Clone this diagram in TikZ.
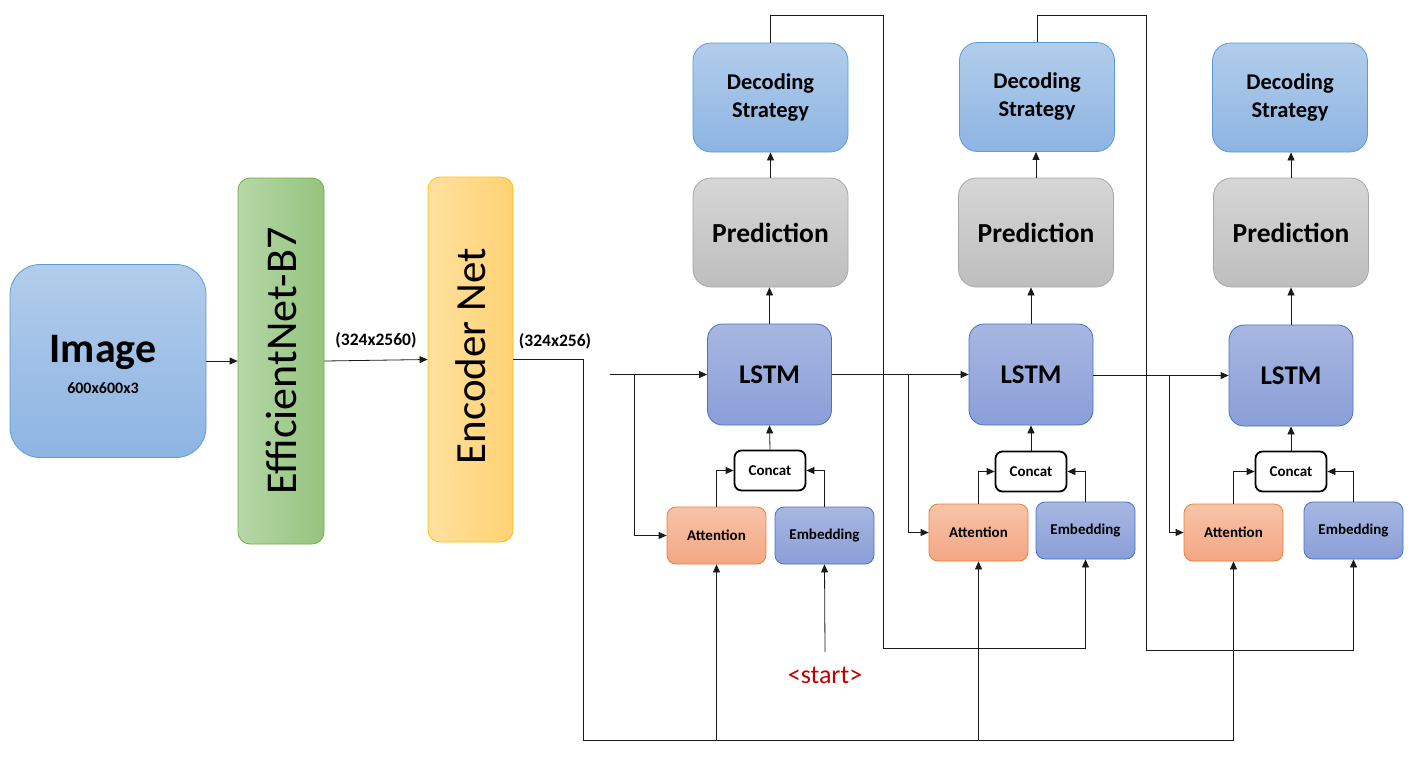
\documentclass[tikz,border=0pt]{standalone}
\usepackage{fontspec}
\setmainfont{Carlito}
\usetikzlibrary{arrows.meta}
\definecolor{bluebd}{HTML}{5B9BD5}
\definecolor{bluetop}{HTML}{B2CDEB}
\definecolor{bluebot}{HTML}{8DB4E2}
\definecolor{lstmbd}{HTML}{4472C4}
\definecolor{lstmtop}{HTML}{A8B7E1}
\definecolor{lstmbot}{HTML}{8A9FD8}
\definecolor{graybd}{HTML}{A6A6A6}
\definecolor{graytop}{HTML}{D6D6D6}
\definecolor{graybot}{HTML}{BEBEBE}
\definecolor{attbd}{HTML}{ED7D31}
\definecolor{atttop}{HTML}{F7C3A9}
\definecolor{attbot}{HTML}{F4A783}
\definecolor{effbd}{HTML}{70AD47}
\definecolor{effl}{HTML}{B6D7A8}
\definecolor{effr}{HTML}{94C47D}
\definecolor{encbd}{HTML}{FFC000}
\definecolor{encl}{HTML}{FFE0A0}
\definecolor{encr}{HTML}{FFD272}
\definecolor{startred}{HTML}{C00000}
\definecolor{linec}{HTML}{1A1A1A}
\tikzset{
  blk/.style={draw, inner sep=0pt, line width=0.8pt, align=center, font=\bfseries},
  decbox/.style={blk, draw=bluebd, top color=bluetop, bottom color=bluebot, rounded corners=18pt,
    minimum width=155pt, minimum height=109pt, font=\bfseries\fontsize{22.5}{28}\selectfont},
  predbox/.style={blk, draw=graybd, top color=graytop, bottom color=graybot, rounded corners=18pt,
    minimum width=155pt, minimum height=109pt, font=\bfseries\fontsize{27.5}{30}\selectfont},
  lstmbox/.style={blk, draw=lstmbd, top color=lstmtop, bottom color=lstmbot, rounded corners=15pt,
    minimum width=124pt, minimum height=101pt, font=\bfseries\fontsize{27}{30}\selectfont},
  ccbox/.style={blk, draw=black, line width=1.8pt, fill=white, rounded corners=7pt,
    minimum width=71pt, minimum height=40pt, font=\bfseries\fontsize{15}{17}\selectfont},
  attbox/.style={blk, draw=attbd, top color=atttop, bottom color=attbot, rounded corners=9pt,
    minimum width=99pt, minimum height=57pt, font=\bfseries\fontsize{15}{17}\selectfont},
  embbox/.style={blk, draw=lstmbd, top color=lstmtop, bottom color=lstmbot, rounded corners=9pt,
    minimum width=99pt, minimum height=57pt, font=\bfseries\fontsize{15}{17}\selectfont},
  arr/.style={draw=linec, line width=0.8pt, -{Triangle[length=8pt,width=7pt]}},
  dimlbl/.style={inner sep=0pt, font=\bfseries\fontsize{17.5}{19}\selectfont}
}
\begin{document}
\begin{tikzpicture}[x=1pt,y=-1pt]
\useasboundingbox (0,0) rectangle (1423,774);

% left part
\node[blk, draw=bluebd, top color=bluetop, bottom color=bluebot, rounded corners=30pt,
  minimum width=196pt, minimum height=193pt] (img) at (108,361) {};
\node[inner sep=0pt, font=\bfseries\fontsize{42}{46}\selectfont] (imgt) at (103,352) {Image};
\node[inner sep=0pt, font=\bfseries\fontsize{16}{18}\selectfont] (imgs) at (103,388) {600x600x3};

\node[blk, draw=effbd, left color=effl, right color=effr, rounded corners=12pt,
  minimum width=86pt, minimum height=366pt] (eff) at (281,361) {};
\node[inner sep=0pt, rotate=90, font=\fontsize{44}{48}\selectfont] (efft) at (eff.center) {EfficientNet-B7};

\node[blk, draw=encbd, left color=encl, right color=encr, rounded corners=12pt,
  minimum width=85pt, minimum height=365pt] (enc) at (470.5,359.5) {};
\node[inner sep=0pt, rotate=90, font=\fontsize{43}{47}\selectfont] (enct) at (471,356) {Encoder Net};

\node[dimlbl] (d1) at (376,340) {(324x2560)};
\node[dimlbl] (d2) at (555,341) {(324x256)};

% column 1
\node[decbox] (dec1) at (770.5,97.5) {Decoding\\Strategy};
\node[predbox] (pred1) at (770.5,232.5) {Prediction};
\node[lstmbox] (lstm1) at (769.5,374.5) {LSTM};
\node[ccbox] (cc1) at (770,470.5) {Concat};
\node[attbox] (att1) at (716.5,535.5) {Attention};
\node[embbox] (emb1) at (824.5,535.5) {Embedding};
\node[inner sep=0pt, text=startred, font=\fontsize{26}{28}\selectfont] (start) at (825,675) {<start>};

% column 2
\node[decbox] (dec2) at (1037,97) {Decoding\\Strategy};
\node[predbox] (pred2) at (1036,232.5) {Prediction};
\node[lstmbox] (lstm2) at (1031,374.5) {LSTM};
\node[ccbox] (cc2) at (1031,471.5) {Concat};
\node[attbox] (att2) at (978.5,532.5) {Attention};
\node[embbox] (emb2) at (1085.5,530.5) {Embedding};

% column 3
\node[decbox] (dec3) at (1290,97.5) {Decoding\\Strategy};
\node[predbox] (pred3) at (1291,232.5) {Prediction};
\node[lstmbox] (lstm3) at (1291,375.5) {LSTM};
\node[ccbox] (cc3) at (1291,471.5) {Concat};
\node[attbox] (att3) at (1233.5,532.5) {Attention};
\node[embbox] (emb3) at (1353.5,530.5) {Embedding};

% coordinates
\coordinate (in1) at (610,374.5);
\coordinate (b1) at (634,374.5);
\coordinate (b2) at (908,374.5);
\coordinate (b3) at (1169,375.5);
\coordinate (bus) at (583,740);
\coordinate (st) at (825,652);

% left connectors
\draw[arr] (img.east) -- (eff.west);
\draw[arr] (eff.east) -- (enc.west);
\draw[arr] (enc.east) -- (583,359.5) -- (bus) -| (att3.south);
\draw[arr] (bus -| att1.south) -- (att1.south);
\draw[arr] (bus -| att2.south) -- (att2.south);

% column 1 connectors
\draw[arr] (in1) -- (lstm1.west);
\draw[arr] (b1) |- (att1.west);
\draw[arr] (att1.north) |- (cc1.west);
\draw[arr] (emb1.north) |- (cc1.east);
\draw[arr] (cc1.north) -- (lstm1.south);
\draw[arr] (lstm1.north) -- (lstm1.north |- pred1.south);
\draw[arr] (pred1.north) -- (dec1.south);
\draw[arr] (st) -- (emb1.south);
\draw[arr] (dec1.north) |- (883,15) -- (883,648) -| (emb2.south);

% column 2 connectors
\draw[arr] (lstm1.east) -- (lstm2.west);
\draw[arr] (b2) |- (att2.west);
\draw[arr] (att2.north) |- (cc2.west);
\draw[arr] (emb2.north) |- (cc2.east);
\draw[arr] (cc2.north) -- (lstm2.south);
\draw[arr] (lstm2.north) -- (lstm2.north |- pred2.south);
\draw[arr] (pred2.north) -- (pred2.north |- dec2.south);
\draw[arr] (dec2.north) |- (1146,15) -- (1146,650) -| (emb3.south);

% column 3 connectors
\draw[arr] (lstm2.east |- b3) -- (lstm3.west);
\draw[arr] (b3) |- (att3.west);
\draw[arr] (att3.north) |- (cc3.west);
\draw[arr] (emb3.north) |- (cc3.east);
\draw[arr] (cc3.north) -- (lstm3.south);
\draw[arr] (lstm3.north) -- (lstm3.north |- pred3.south);
\draw[arr] (pred3.north) -- (pred3.north |- dec3.south);
\end{tikzpicture}
\end{document}
